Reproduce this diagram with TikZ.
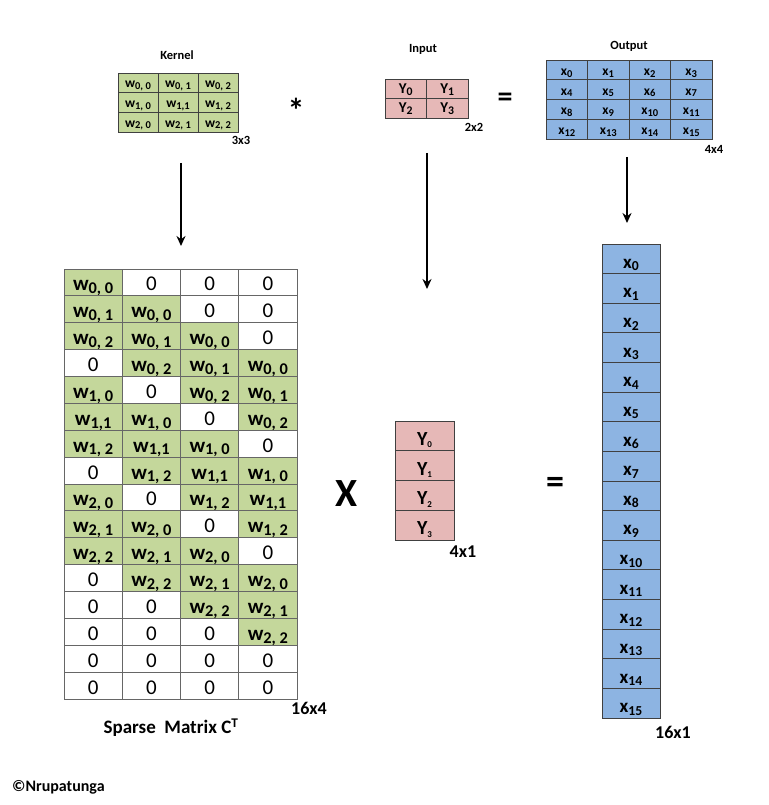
\documentclass[tikz,border=0pt]{standalone}
\usepackage{fontspec}
\setmainfont{Carlito}
\usepackage{graphicx}
\usetikzlibrary{arrows.meta}
\definecolor{kg}{HTML}{C4D79B}
\definecolor{ip}{HTML}{E6B8B7}
\definecolor{ob}{HTML}{8DB4E2}
\definecolor{bd}{HTML}{404040}
\newcommand\sbx[2][0.78]{\raisebox{-0.13em}[0pt][0pt]{\scalebox{#1}{#2}}}
\newcommand\wa[2]{w\sbx{#1, #2}}
\newcommand\wb[2]{w\sbx{#1,#2}}
\newcommand\zr{{\mdseries 0}}
\tikzset{
  cellbase/.style={draw=bd, line width=0.8pt, inner sep=0pt, anchor=center, text depth=0pt},
  kcell/.style={cellbase, fill=kg, minimum width=40pt, minimum height=19.67pt, text height=10pt, font=\bfseries\fontsize{13.5}{15}\selectfont},
  icell/.style={cellbase, fill=ip, minimum width=41.5pt, minimum height=19.5pt, text height=9pt, font=\bfseries\fontsize{15}{17}\selectfont},
  ocell/.style={cellbase, fill=ob, minimum width=41.5pt, minimum height=19.75pt, text height=11pt, font=\bfseries\fontsize{13.5}{15}\selectfont},
  scell/.style={cellbase, draw=bd!80, minimum width=58.25pt, minimum height=26.875pt, text height=17pt, font=\bfseries\fontsize{21}{24}\selectfont},
  ycell/.style={cellbase, fill=ip, minimum width=59pt, minimum height=29.75pt, text height=19pt, font=\bfseries\fontsize{20}{22}\selectfont},
  xcell/.style={cellbase, fill=ob, minimum width=58pt, minimum height=29.625pt, text height=19pt, font=\bfseries\fontsize{19}{21}\selectfont},
  title/.style={font=\bfseries\fontsize{12.5}{14}\selectfont, inner sep=0pt},
  dimlab/.style={font=\bfseries\fontsize{12.5}{14}\selectfont, inner sep=0pt},
  biglab/.style={font=\bfseries\fontsize{18}{21}\selectfont, inner sep=0pt},
  arr/.style={line width=2.2pt, -{Stealth[length=10pt,width=9pt]}},
}
\begin{document}
\begin{tikzpicture}[x=1pt,y=-1pt]
\useasboundingbox (0,0) rectangle (768,805);
\fill[white] (0,0) rectangle (768,805);
% Kernel
\node[title] (ktitle) at (177,55) {Kernel};
\foreach \t [count=\i from 0] in {\wa00,\wa01,\wa02,\wa10,\wb11,\wa12,\wa20,\wa21,\wa22} {
  \pgfmathtruncatemacro\r{\i/3}
  \pgfmathtruncatemacro\c{mod(\i,3)}
  \node[kcell] (k-\r-\c) at ({118+40*(\c+0.5)},{73+19.67*(\r+0.5)}) {\t};
}
\node[dimlab] (kdim) at (241,140) {3x3};
\node[font=\bfseries\fontsize{34}{36}\selectfont, inner sep=0pt] (star) at (296,110) {*};
% Input
\node[title] (ititle) at (423,49) {Input};
\foreach \t [count=\i from 0] in {{Y\sbx{0}},{Y\sbx{1}},{Y\sbx{2}},{Y\sbx{3}}} {
  \pgfmathtruncatemacro\r{\i/2}
  \pgfmathtruncatemacro\c{mod(\i,2)}
  \node[icell] (in-\r-\c) at ({385+41.5*(\c+0.5)},{79+19.5*(\r+0.5)}) {\t};
}
\node[dimlab] (idim) at (474,127) {2x2};
\node[font=\bfseries\fontsize{30}{32}\selectfont, inner sep=0pt] (eq1) at (505,100) {=};
% Output
\node[title] (otitle) at (629,46) {Output};
\foreach \i in {0,...,15} {
  \pgfmathtruncatemacro\r{\i/4}
  \pgfmathtruncatemacro\c{mod(\i,4)}
  \node[ocell] (out-\r-\c) at ({546+41.5*(\c+0.5)},{60+19.75*(\r+0.5)}) {x\sbx{\i}};
}
\node[dimlab] (odim) at (714,149) {4x4};
% arrows
\coordinate (ka1) at (181,163); \coordinate (ka2) at (181,246);
\coordinate (ia1) at (427,153); \coordinate (ia2) at (427,289);
\coordinate (oa1) at (627,157); \coordinate (oa2) at (627,223);
\draw[arr] (ka1) -- (ka2);
\draw[arr] (ia1) -- (ia2);
\draw[arr] (oa1) -- (oa2);
% Sparse matrix
\foreach \row [count=\r from 0] in {
  {kg/\wa00, white/\zr, white/\zr, white/\zr},
  {kg/\wa01, kg/\wa00, white/\zr, white/\zr},
  {kg/\wa02, kg/\wa01, kg/\wa00, white/\zr},
  {white/\zr, kg/\wa02, kg/\wa01, kg/\wa00},
  {kg/\wa10, white/\zr, kg/\wa02, kg/\wa01},
  {kg/\wb11, kg/\wa10, white/\zr, kg/\wa02},
  {kg/\wa12, kg/\wb11, kg/\wa10, white/\zr},
  {white/\zr, kg/\wa12, kg/\wb11, kg/\wa10},
  {kg/\wa20, white/\zr, kg/\wa12, kg/\wb11},
  {kg/\wa21, kg/\wa20, white/\zr, kg/\wa12},
  {kg/\wa22, kg/\wa21, kg/\wa20, white/\zr},
  {white/\zr, kg/\wa22, kg/\wa21, kg/\wa20},
  {white/\zr, white/\zr, kg/\wa22, kg/\wa21},
  {white/\zr, white/\zr, white/\zr, kg/\wa22},
  {white/\zr, white/\zr, white/\zr, white/\zr},
  {white/\zr, white/\zr, white/\zr, white/\zr}} {
  \foreach \f/\t [count=\c from 0] in \row {
    \node[scell, fill=\f] (s-\r-\c) at ({64+58.25*(\c+0.5)},{269+26.875*(\r+0.5)}) {\t};
  }
}
\node[biglab] (sdim) at (309,708) {16x4};
\node[font=\bfseries\fontsize{19}{22}\selectfont, inner sep=0pt] (sname) at (171,728) {Sparse\ \ Matrix C\textsuperscript{T}};
\node[font=\bfseries\fontsize{40}{44}\selectfont, inner sep=0pt] (times) at (347,494) {X};
% Y column
\foreach \i in {0,...,3} {
  \node[ycell] (y-\i) at (424.5,{421+29.75*(\i+0.5)}) {Y\sbx[0.45]{\i}};
}
\node[biglab] (ydim) at (463,552) {4x1};
\node[font=\bfseries\fontsize{36}{40}\selectfont, inner sep=0pt] (eq2) at (555,485) {=};
% X column
\foreach \i in {0,...,15} {
  \node[xcell] (x-\i) at (631,{244+29.625*(\i+0.5)}) {x\sbx[0.72]{\i}};
}
\node[biglab] (xdim) at (673,732) {16x1};
\node[font=\bfseries\fontsize{16}{18}\selectfont, inner sep=0pt, anchor=west] (copy) at (12,787) {©Nrupatunga};
\end{tikzpicture}
\end{document}
